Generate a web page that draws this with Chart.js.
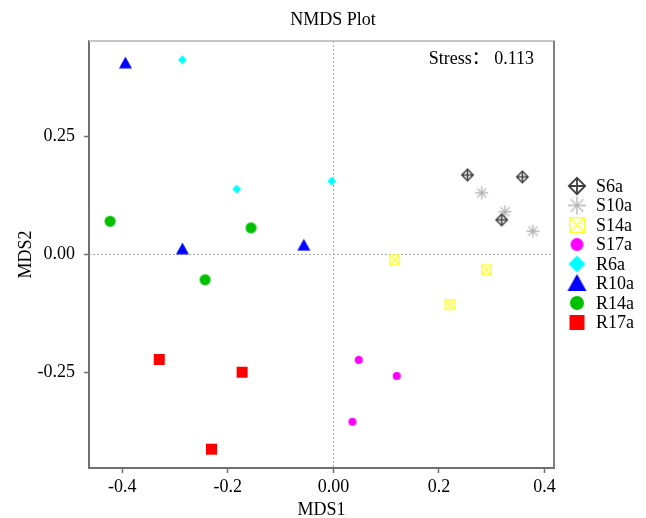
<!DOCTYPE html>
<html><head><meta charset="utf-8">
<script src="https://cdn.jsdelivr.net/npm/chart.js@4"></script>
<style>html,body{margin:0;padding:0;background:#fff;}canvas{display:block;}</style>
</head><body>
<canvas id="c" width="646" height="518"></canvas>
<script>
const seriesNames = ["S6a","S10a","S14a","S17a","R6a","R10a","R14a","R17a"];
const S6a  = [{x:0.254,y:0.168},{x:0.358,y:0.164},{x:0.319,y:0.073}];
const S10a = [{x:0.281,y:0.130},{x:0.325,y:0.090},{x:0.378,y:0.049}];
const S14a = [{x:0.116,y:-0.012},{x:0.290,y:-0.033},{x:0.221,y:-0.107}];
const S17a = [{x:0.048,y:-0.224},{x:0.120,y:-0.258},{x:0.036,y:-0.355}];
const R6a  = [{x:-0.286,y:0.412},{x:-0.183,y:0.138},{x:-0.003,y:0.155}];
const R10a = [{x:-0.394,y:0.405},{x:-0.286,y:0.011},{x:-0.056,y:0.019}];
const R14a = [{x:-0.423,y:0.070},{x:-0.156,y:0.056},{x:-0.243,y:-0.054}];
const R17a = [{x:-0.330,y:-0.223},{x:-0.173,y:-0.250},{x:-0.231,y:-0.413}];
const seriesData = [S6a,S10a,S14a,S17a,R6a,R10a,R14a,R17a];
const markerTypes = ["crossDiamond","asterisk","boxX","circle","diamond","triangle","circle","square"];
const markerColors = ["#404040","#b4b4b4","#ffff33","#ff00ff","#00ffff","#0000ff","#00c000","#ff0000"];
const markerSizes = [13,13,11,8,9,13,11,11];
const legendSizes = [18,18,16,13,17,19,14,15];
const xTickValues = [-0.4,-0.2,0,0.2,0.4];
const xTickLabels = ["-0.4","-0.2","0.00","0.2","0.4"];
const yTickValues = [-0.25,0,0.25];
const yTickLabels = ["-0.25","0.00","0.25"];
const titleText = "NMDS Plot";
const stressText = "Stress\uFF1A 0.113";
const xTitle = "MDS1", yTitle = "MDS2";

const SERIF = "'Liberation Serif','Noto Sans CJK SC',serif";

function makeMarker(type, size, color){
  const pad = 2;
  const cv = document.createElement('canvas');
  cv.width = size + pad*2; cv.height = size + pad*2;
  const g = cv.getContext('2d');
  const c = cv.width/2, r = size/2;
  g.fillStyle = color; g.strokeStyle = color;
  if (type === 'circle') { g.beginPath(); g.arc(c,c,r,0,Math.PI*2); g.fill(); }
  else if (type === 'square') { g.fillRect(c-r,c-r,size,size); }
  else if (type === 'diamond') { g.beginPath(); g.moveTo(c,c-r); g.lineTo(c+r,c); g.lineTo(c,c+r); g.lineTo(c-r,c); g.closePath(); g.fill(); }
  else if (type === 'triangle') { g.beginPath(); g.moveTo(c,c-r); g.lineTo(c+r,c+r*0.8); g.lineTo(c-r,c+r*0.8); g.closePath(); g.fill(); }
  else if (type === 'crossDiamond') {
    g.lineWidth = size>15?1.8:1.5;
    const q = r-0.8;
    g.beginPath(); g.moveTo(c,c-q); g.lineTo(c+q,c); g.lineTo(c,c+q); g.lineTo(c-q,c); g.closePath(); g.stroke();
    g.beginPath(); g.moveTo(c,c-q); g.lineTo(c,c+q); g.moveTo(c-q,c); g.lineTo(c+q,c); g.stroke();
  }
  else if (type === 'asterisk') {
    g.lineWidth = 1.3;
    g.beginPath();
    for (let k=0;k<4;k++){ const a=k*Math.PI/4; g.moveTo(c-r*Math.cos(a),c-r*Math.sin(a)); g.lineTo(c+r*Math.cos(a),c+r*Math.sin(a)); }
    g.stroke();
  }
  else if (type === 'boxX') {
    g.lineWidth = 1.5;
    const q = r-0.75;
    g.strokeRect(c-q,c-q,2*q,2*q);
    g.beginPath(); g.moveTo(c-q,c-q); g.lineTo(c+q,c+q); g.moveTo(c+q,c-q); g.lineTo(c-q,c+q); g.stroke();
  }
  return cv;
}

const datasets = seriesNames.map((n,i)=>({
  label:n, data:seriesData[i],
  pointStyle: makeMarker(markerTypes[i], markerSizes[i], markerColors[i]),
  backgroundColor: markerColors[i], borderColor: markerColors[i],
  pointRadius: markerSizes[i]/2, pointHoverRadius: markerSizes[i]/2
}));

const CH = {left:89, right:554, top:41, bottom:468};

const decor = {
  id:'decor',
  beforeDatasetsDraw(chart){
    const {ctx, chartArea:a, scales:{x,y}} = chart;
    ctx.save();
    ctx.strokeStyle = '#a8a8a8'; ctx.lineWidth = 1; ctx.setLineDash([2,2]);
    const x0 = Math.round(x.getPixelForValue(0))+0.5, y0 = Math.round(y.getPixelForValue(0))+0.5;
    ctx.beginPath(); ctx.moveTo(x0,a.top); ctx.lineTo(x0,a.bottom); ctx.stroke();
    ctx.beginPath(); ctx.moveTo(a.left,y0); ctx.lineTo(a.right,y0); ctx.stroke();
    ctx.setLineDash([]);
    ctx.strokeStyle = '#c4c4c4'; ctx.lineWidth = 2;
    ctx.beginPath(); ctx.moveTo(a.left,a.top); ctx.lineTo(a.right+1,a.top); ctx.stroke();
    ctx.strokeStyle = '#808080';
    ctx.beginPath(); ctx.moveTo(a.right,a.top); ctx.lineTo(a.right,a.bottom); ctx.stroke();
    ctx.restore();
  },
  afterDraw(chart){
    const {ctx, chartArea:a} = chart;
    ctx.save();
    ctx.fillStyle = '#000';
    ctx.font = '18px ' + SERIF;
    ctx.textAlign = 'center'; ctx.textBaseline = 'middle';
    ctx.fillText(titleText, 333, 20);
    ctx.textAlign = 'right';
    ctx.fillText(stressText, 534, 59);
    // legend
    ctx.textAlign = 'left';
    seriesNames.forEach((n,i)=>{
      const yy = 186 + i*19.5;
      const m = makeMarker(markerTypes[i], legendSizes[i], markerColors[i]);
      ctx.drawImage(m, 577 - m.width/2, yy - m.height/2);
      ctx.fillStyle = '#000';
      ctx.fillText(n, 596, yy+1);
    });
    ctx.restore();
  }
};

new Chart(document.getElementById('c'), {
  type:'scatter',
  data:{datasets},
  options:{
    responsive:false, animation:false, devicePixelRatio:1,
    layout:{padding:{left:0, top:CH.top, right:646-CH.right, bottom:0}},
    plugins:{legend:{display:false}, tooltip:{enabled:false}, title:{display:false}},
    scales:{
      x:{
        type:'linear', min:-0.463, max:0.418,
        afterFit(s){ s.height = 518 - CH.bottom; },
        afterBuildTicks(s){ s.ticks = xTickValues.map(v=>({value:v})); },
        ticks:{ color:'#000', font:{family:SERIF, size:18}, padding:3, maxRotation:0,
          callback:(v)=>{ const i = xTickValues.findIndex(t=>Math.abs(t-v)<1e-9); return i>=0?xTickLabels[i]:''; } },
        grid:{ display:true, drawOnChartArea:false, drawTicks:true, tickLength:5, tickColor:'#707070', tickWidth:1.5 },
        border:{ display:true, color:'#707070', width:2 },
        title:{ display:true, text:xTitle, color:'#000', font:{family:SERIF, size:18}, padding:{top:0,bottom:-3} }
      },
      y:{
        type:'linear', min:-0.453, max:0.452,
        afterFit(s){ s.width = CH.left; },
        afterBuildTicks(s){ s.ticks = yTickValues.map(v=>({value:v})); },
        ticks:{ color:'#000', font:{family:SERIF, size:18}, padding:9,
          callback:(v)=>{ const i = yTickValues.findIndex(t=>Math.abs(t-v)<1e-9); return i>=0?yTickLabels[i]:''; } },
        grid:{ display:true, drawOnChartArea:false, drawTicks:true, tickLength:5, tickColor:'#707070', tickWidth:1.5 },
        border:{ display:true, color:'#707070', width:2 },
        title:{ display:true, text:yTitle, color:'#000', font:{family:SERIF, size:18}, padding:{top:15,bottom:0} }
      }
    }
  },
  plugins:[decor]
});
</script>
</body></html>
